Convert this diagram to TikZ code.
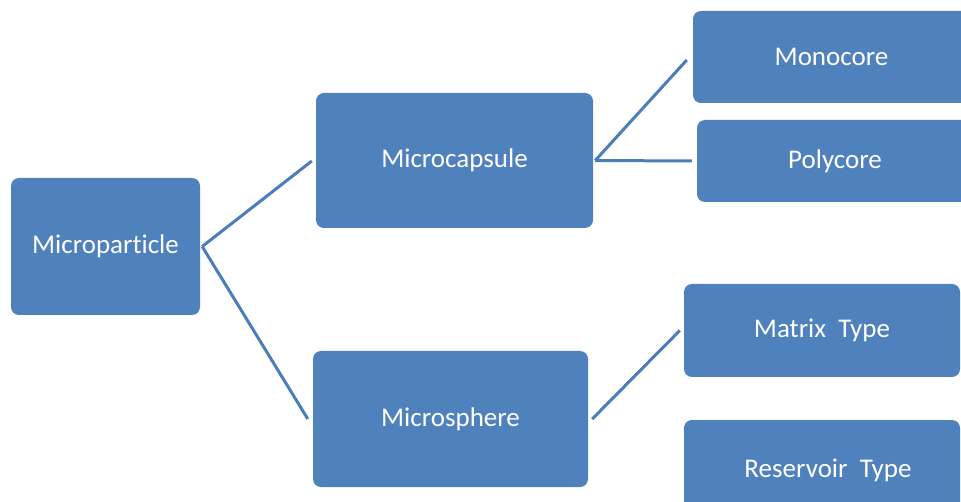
\documentclass[tikz,border=0pt]{standalone}
\usepackage{fontspec}
\setmainfont[Ligatures=NoCommon]{Carlito}
\definecolor{boxblue}{HTML}{4F81BD}
\definecolor{lineblue}{HTML}{4A7EBB}
\begin{document}
\begin{tikzpicture}[x=1pt,y=-1pt,
  box/.style={fill=boxblue, rounded corners=8pt, text=white, inner sep=0pt,
    font=\fontsize{27}{32}\selectfont},
  conn/.style={draw=lineblue, line width=3pt}]
\useasboundingbox (0,0) rectangle (961,502);
\clip (0,0) rectangle (961,502);
\fill[white] (0,0) rectangle (961,502);
\node[box, minimum width=189pt, minimum height=137pt] (mp) at (105.5,246.5) {Microparticle};
\node[box, minimum width=277pt, minimum height=135pt] (mc) at (454.5,160.5) {Microcapsule};
\node[box, minimum width=275pt, minimum height=136pt] (ms) at (450.5,419) {Microsphere};
\node[box, minimum width=277pt, minimum height=92pt] (mono) at (831.5,57) {Monocore};
\node[box, minimum width=276pt, minimum height=82pt] (poly) at (835,161) {Polycore};
\node[box, minimum width=276pt, minimum height=93pt] (mt) at (822,330.5) {Matrix\ \ Type};
\node[box, minimum width=276pt, minimum height=100pt] (rt) at (822,470) {\hspace*{12pt}Reservoir\ \ Type};
\draw[conn] ([xshift=2pt]mp.east) -- ([xshift=-4pt,yshift=-0.5pt]mc.west);
\draw[conn] ([xshift=2pt]mp.east) -- ([xshift=-5pt]ms.west);
\draw[conn] ([xshift=2pt]mc.east) -- ([xshift=-6pt,yshift=-3pt]mono.west);
\draw[conn] ([xshift=2pt]mc.east) -- ([xshift=-5pt]poly.west);
\draw[conn] ([xshift=4pt]ms.east) -- ([xshift=-4pt]mt.west);
\end{tikzpicture}
\end{document}
